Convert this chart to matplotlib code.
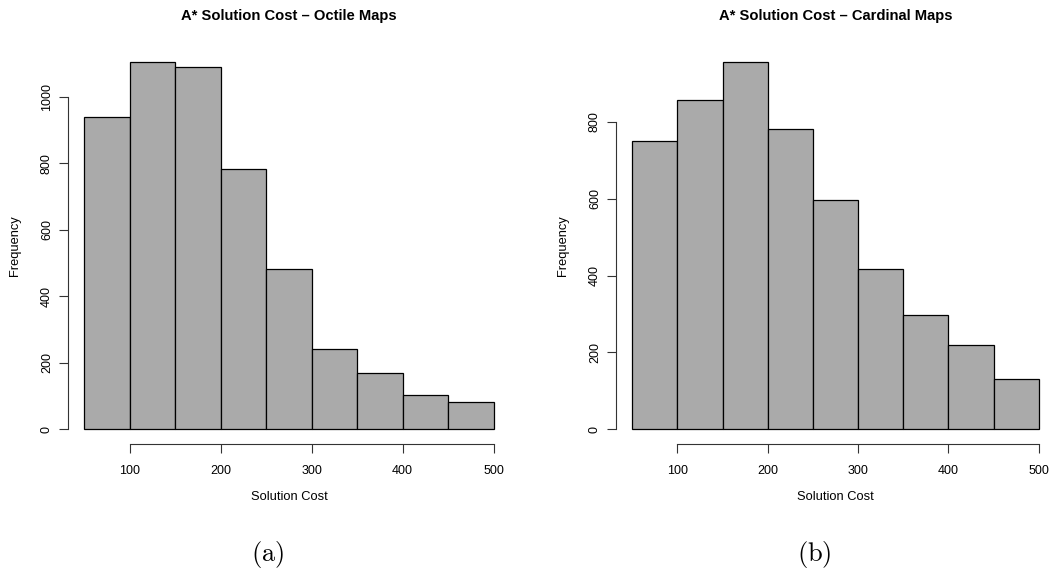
import matplotlib
matplotlib.use("Agg")
import matplotlib.pyplot as plt
import numpy as np

plt.rcParams['font.family'] = ['Liberation Sans', 'DejaVu Sans']
plt.rcParams['mathtext.fontset'] = 'cm'

# bin edges shared by both histograms
edges = [50, 100, 150, 200, 250, 300, 350, 400, 450, 500]

# counts
octile_counts = [939, 1104, 1089, 784, 483, 243, 170, 102, 83]
cardinal_counts = [749, 856, 955, 781, 596, 416, 297, 220, 130]

titles = ["A* Solution Cost \u2013 Octile Maps", "A* Solution Cost \u2013 Cardinal Maps"]
captions = ["(a)", "(b)"]
x_ticks = [100, 200, 300, 400, 500]
y_ticks = [[0, 200, 400, 600, 800, 1000], [0, 200, 400, 600, 800]]

fig = plt.figure(figsize=(10.55, 5.70), dpi=100)
ax1 = fig.add_axes([68 / 1055, 1 - 444 / 570, 442 / 1055, 396.5 / 570])
ax2 = fig.add_axes([616 / 1055, 1 - 444 / 570, 439 / 1055, 396.5 / 570])

for ax, counts, title, yt in zip([ax1, ax2], [octile_counts, cardinal_counts], titles, y_ticks):
    ax.hist(edges[:-1], bins=edges, weights=counts, color='#aaaaaa',
            edgecolor='black', linewidth=0.9)
    # R-style 4% padding around the data range
    span = edges[-1] - edges[0]
    ax.set_xlim(edges[0] - 0.04 * span, edges[-1] + 0.04 * span)
    top = max(counts)
    ax.set_ylim(-0.04 * top, 1.04 * top)

    ax.set_xticks(x_ticks)
    ax.set_yticks(yt)
    ax.set_yticklabels([str(v) for v in yt], rotation=90, va='center')
    ax.tick_params(axis='both', length=6.3, width=0.8, labelsize=9, color='#333333')
    ax.tick_params(axis='x', pad=8.5)
    ax.tick_params(axis='y', pad=4.5)

    for s in ['top', 'right']:
        ax.spines[s].set_visible(False)
    ax.spines['left'].set_bounds(yt[0], yt[-1])
    ax.spines['bottom'].set_bounds(x_ticks[0], x_ticks[-1])
    ax.spines['left'].set_color('#333333')
    ax.spines['bottom'].set_color('#333333')
    ax.spines['left'].set_linewidth(0.8)
    ax.spines['bottom'].set_linewidth(0.8)

    ax.set_xlabel("Solution Cost", fontsize=9.3)
    ax.xaxis.label.set_va('center')
    ax.xaxis.set_label_coords(0.5, -53 / 396.5)
    ax.set_ylabel("Frequency", fontsize=9.3)
    ax.yaxis.label.set_va('center')
    ax.yaxis.set_label_coords(-53 / 442, 0.5)

    ax.set_title(title, fontsize=10.6, fontweight='bold', y=1 + 31.5 / 396.5, va='center', pad=0)

fig.text(268 / 1055, 1 - 554 / 570, r"$\mathrm{(a)}$", fontsize=19, ha='center', va='center')
fig.text(814 / 1055, 1 - 554 / 570, r"$\mathrm{(b)}$", fontsize=19, ha='center', va='center')

fig.savefig("out.png", dpi=100)
